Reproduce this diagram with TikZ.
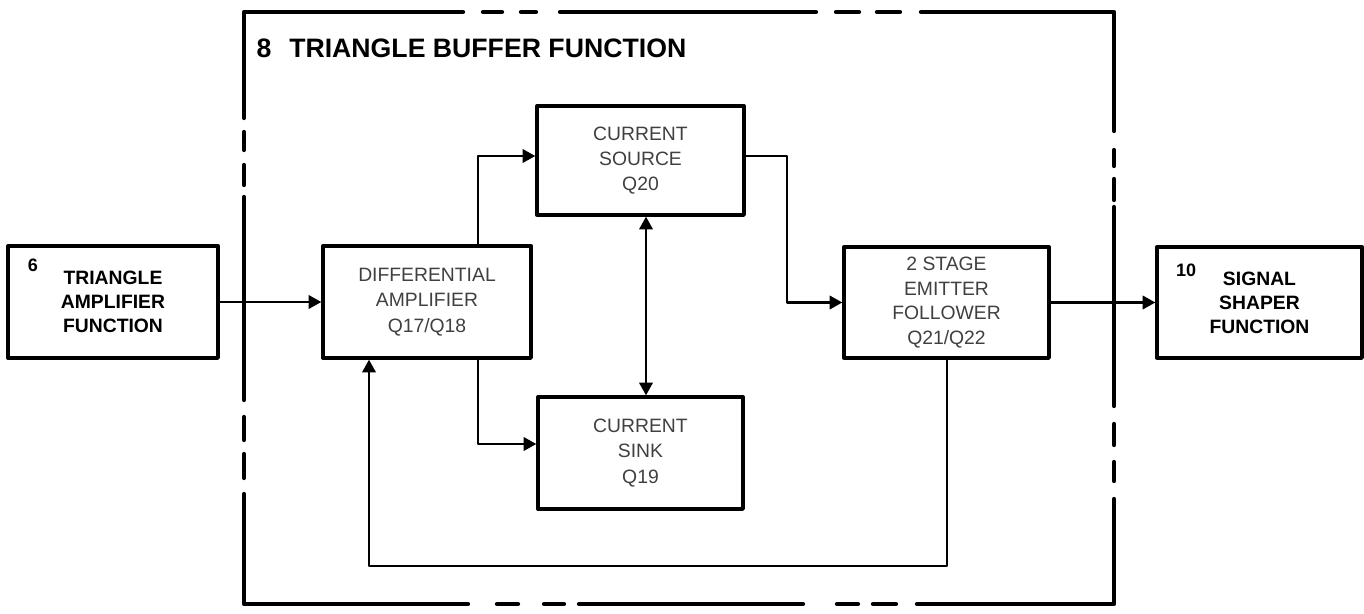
\documentclass[tikz,border=0pt]{standalone}
\usepackage{fontspec}
\setmainfont{Liberation Sans}
\usetikzlibrary{arrows.meta}
\begin{document}
\begin{tikzpicture}[x=0.75pt,y=-0.75pt,
  blk/.style={draw, line width=2.5pt, rectangle, inner sep=0pt, align=center, line join=round},
  innerblk/.style={blk, font=\fontsize{14.5}{19}\selectfont, text=black!75},
  outerblk/.style={blk, font=\bfseries\fontsize{14.5}{18}\selectfont},
  wire/.style={line width=1.9pt, line join=round},
  tip/.tip={Triangle[length=9.5pt,width=10pt]},
  arr/.style={wire, -tip},
  brd/.style={line width=3.2pt, line cap=round, line join=round}
]
\useasboundingbox (0,0) rectangle (1364,614);

% outer dashed boundary of function 8
\draw[brd] (244,118) -- (244,12) -- (463,12);
\draw[brd] (483,12) -- (502,12);
\draw[brd] (521,12) -- (536,12);
\draw[brd] (560,12) -- (816,12);
\draw[brd] (836,12) -- (859,12);
\draw[brd] (877,12) -- (900,12);
\draw[brd] (921,12) -- (1114,12) -- (1114,131);
\draw[brd] (1114,150) -- (1114,166);
\draw[brd] (1114,179) -- (1114,200);
\draw[brd] (1114,207) -- (1114,406);
\draw[brd] (1114,424) -- (1114,445);
\draw[brd] (1114,462) -- (1114,481);
\draw[brd] (1114,499) -- (1114,604) -- (917,604);
\draw[brd] (896,604) -- (873,604);
\draw[brd] (858,604) -- (837,604);
\draw[brd] (803,604) -- (579,604);
\draw[brd] (564,604) -- (544,604);
\draw[brd] (518,604) -- (497,604);
\draw[brd] (468,604) -- (244,604) -- (244,494);
\draw[brd] (244,478) -- (244,454);
\draw[brd] (244,440) -- (244,417);
\draw[brd] (244,400) -- (244,197);
\draw[brd] (244,185) -- (244,165);
\draw[brd] (244,150) -- (244,132);

% title
\node[font=\bfseries\fontsize{20}{24}\selectfont] (n8) at (264,48) {8};
\node[font=\bfseries\fontsize{20}{24}\selectfont, anchor=west, inner sep=0pt] (title) at (289,48) {TRIANGLE BUFFER FUNCTION};

% outside blocks
\node[outerblk, minimum width=210*0.75pt, minimum height=112*0.75pt] (tri) at (113,302) {TRIANGLE\\AMPLIFIER\\FUNCTION};
\node[font=\bfseries\fontsize{13.5}{15}\selectfont] (n6) at (33,265) {6};
\node[outerblk, minimum width=205*0.75pt, minimum height=111*0.75pt] (sig) at (1259.5,302.5) {SIGNAL\\SHAPER\\FUNCTION};
\node[font=\bfseries\fontsize{13.5}{15}\selectfont] (n10) at (1186,270) {10};

% inner blocks
\node[innerblk, minimum width=208*0.75pt, minimum height=112*0.75pt] (diff) at (427,302) {DIFFERENTIAL\\AMPLIFIER\\Q17/Q18};
\node[innerblk, minimum width=207*0.75pt, minimum height=109*0.75pt] (src) at (640.5,160.5) {CURRENT\\SOURCE\\Q20};
\node[innerblk, minimum width=205*0.75pt, minimum height=112*0.75pt] (sink) at (640.5,453) {CURRENT\\SINK\\Q19};
\node[innerblk, minimum width=205*0.75pt, minimum height=111*0.75pt, font=\fontsize{14.5}{18.5}\selectfont] (ef) at (946.5,302.5) {2 STAGE\\EMITTER\\FOLLOWER\\Q21/Q22};

% helper coordinates
\coordinate (xa) at (478,0);
\coordinate (ya) at (0,156);
\coordinate (yb) at (0,444);
\coordinate (xc) at (787,0);
\coordinate (xd) at (646,0);
\coordinate (xe) at (947,0);
\coordinate (yf) at (0,566);
\coordinate (xg) at (369,0);

% connectors
\draw[arr] (tri.east) -- (diff.west);
\draw[arr] (diff.north -| xa) |- (src.west |- ya);
\draw[arr] (diff.south -| xa) |- (sink.west |- yb);
\draw[arr] (src.east |- ya) -| (xc |- ef.west) -- (ef.west);
\draw[wire, tip-tip] (src.south -| xd) -- (sink.north -| xd);
\draw[arr] (ef.east) -- (sig.west);
\draw[arr] (ef.south -| xe) |- (xg |- yf) -- (diff.south -| xg);
\end{tikzpicture}
\end{document}
